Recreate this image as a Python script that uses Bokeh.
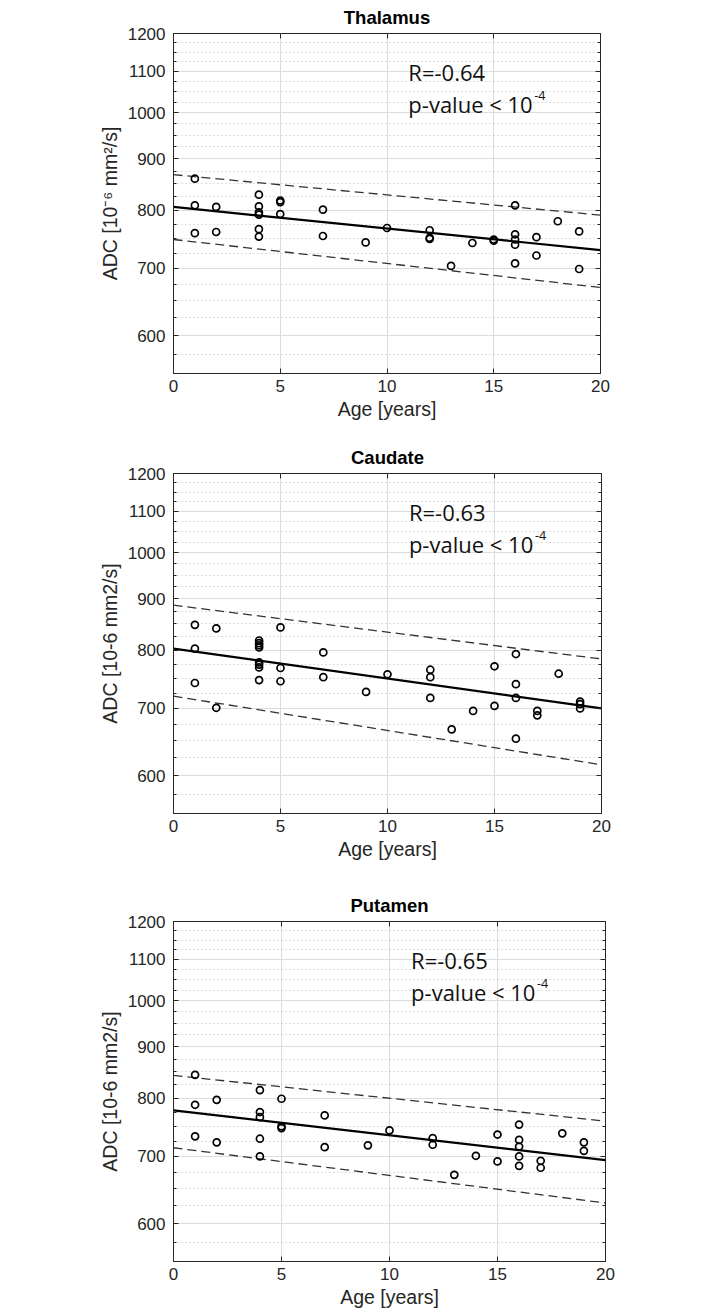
from bokeh.plotting import figure
from bokeh.models import (Range1d, FixedTicker, LogAxis, LinearAxis, Label,
                          NumeralTickFormatter, CustomLabelingPolicy)
from bokeh.layouts import column
from bokeh.embed import file_html
from bokeh.resources import INLINE

# ---------------- data ----------------
regions = ["Thalamus", "Caudate", "Putamen"]
y_labels = ["ADC [10\u207b\u2076 mm\u00b2/s]", "ADC [10-6 mm2/s]", "ADC [10-6 mm2/s]"]
r_texts = ["R=-0.64", "R=-0.63", "R=-0.65"]
p_text = "p-value < 10"
p_exp = "-4"
x_label = "Age [years]"

thal_age = [1, 1, 1, 2, 2, 4, 4, 4, 4, 4, 4, 5, 5, 5, 7, 7, 9, 10, 12, 12, 12,
            13, 14, 15, 15, 16, 16, 16, 16, 16, 17, 17, 18, 19, 19]
thal_adc = [860, 809, 759, 806, 761, 829, 807, 796, 792, 766, 753, 818, 815, 793,
            801, 754, 743, 768, 764, 751, 749, 704, 742, 748, 746, 809, 757, 748,
            739, 708, 752, 721, 780, 762, 699]

caud_age = [1, 1, 1, 2, 2, 4, 4, 4, 4, 4, 4, 4, 4, 5, 5, 5, 7, 7, 9, 10, 12, 12, 12,
            13, 14, 15, 15, 16, 16, 16, 16, 17, 17, 18, 19, 19, 19]
caud_adc = [848, 803, 742, 841, 701, 818, 813, 809, 805, 778, 774, 769, 747, 843,
            768, 745, 796, 752, 727, 757, 765, 752, 717, 667, 696, 771, 704, 793,
            740, 717, 653, 696, 689, 758, 711, 707, 700]

put_age = [1, 1, 1, 2, 2, 4, 4, 4, 4, 4, 5, 5, 5, 7, 7, 9, 10, 12, 12, 13, 14,
           15, 15, 16, 16, 16, 16, 16, 17, 17, 18, 19, 19]
put_adc = [844, 788, 733, 797, 723, 815, 775, 766, 729, 700, 799, 750, 747, 769,
           715, 718, 743, 730, 719, 671, 701, 736, 692, 753, 727, 716, 700, 685,
           693, 682, 738, 723, 709]

fit_age = [0, 20]
thal_fit, thal_up, thal_lo = [806, 730], [868, 791], [748, 670]
caud_fit, caud_up, caud_lo = [803, 700], [887, 784], [720, 615]
put_fit, put_up, put_lo = [778, 694], [843, 759], [714, 629]

y_major = [600, 700, 800, 900, 1000, 1100, 1200]
y_minor = [575, 625, 650, 675, 725, 750, 775, 825, 850, 875, 925, 950, 975,
           1025, 1050, 1075, 1125, 1150, 1175]
x_major = [0, 5, 10, 15, 20]

ages = [thal_age, caud_age, put_age]
adcs = [thal_adc, caud_adc, put_adc]
fits = [thal_fit, caud_fit, put_fit]
ups = [thal_up, caud_up, put_up]
los = [thal_lo, caud_lo, put_lo]

# ---------------- layout ----------------
border_left = [169, 169, 173]
border_top = [33, 31, 31]
heights = [442, 448, 424]
frame_w = [431, 432, 432]
FH = 340
AX = "#262626"
FONT = "Liberation Sans"


def make_panel(i):
    h = heights[i]
    bl = border_left[i]
    bt = border_top[i]
    bb = h - bt - FH
    br = 20
    p = figure(width=bl + frame_w[i] + br, height=h, y_axis_type="log",
               x_range=Range1d(0, 20), y_range=Range1d(550, 1200),
               output_backend="svg", toolbar_location=None,
               min_border_left=bl, min_border_right=br,
               min_border_top=bt, min_border_bottom=bb,
               title=regions[i])
    p.title.align = "center"
    p.title.text_font = FONT
    p.title.text_font_size = "18.5px"
    p.title.text_font_style = "bold"
    p.title.text_color = "black"
    p.title.standoff = 4

    p.outline_line_color = AX
    p.outline_line_width = 1
    p.background_fill_color = "white"
    p.border_fill_color = "white"

    yt = FixedTicker(ticks=y_major, minor_ticks=y_minor)
    xt = FixedTicker(ticks=x_major, minor_ticks=[])
    p.yaxis.ticker = yt
    p.xaxis.ticker = xt
    p.yaxis.formatter = NumeralTickFormatter(format="0")

    for ax in (p.xaxis[0], p.yaxis[0]):
        ax.axis_line_color = AX
        ax.major_tick_in = 5
        ax.major_tick_out = 0
        ax.minor_tick_in = 3
        ax.minor_tick_out = 0
        ax.major_tick_line_color = AX
        ax.minor_tick_line_color = AX
        ax.major_label_text_font = FONT
        ax.major_label_text_font_size = "17px"
        ax.major_label_text_color = AX
        ax.axis_label_text_font = FONT
        ax.axis_label_text_font_size = "19.5px"
        ax.axis_label_text_font_style = "normal"
        ax.axis_label_text_color = AX
    p.xaxis.minor_tick_line_color = None
    p.xaxis.axis_label = x_label
    p.xaxis.major_label_standoff = 6
    p.xaxis.axis_label_standoff = 3
    p.yaxis.axis_label = y_labels[i]
    p.yaxis.major_label_standoff = 8
    p.yaxis.axis_label_standoff = 4

    ra = LogAxis(ticker=yt, major_label_text_font_size="1px", major_label_standoff=0,
                 major_label_policy=CustomLabelingPolicy(code="return []"),
                 major_tick_in=5, major_tick_out=0, minor_tick_in=3, minor_tick_out=0,
                 axis_line_color=None, major_tick_line_color=AX, minor_tick_line_color=AX)
    p.add_layout(ra, "right")
    ta = LinearAxis(ticker=xt, major_label_text_font_size="1px", major_label_standoff=0,
                    major_label_policy=CustomLabelingPolicy(code="return []"),
                    major_tick_in=5, major_tick_out=0, minor_tick_line_color=None,
                    axis_line_color=None, major_tick_line_color=AX)
    p.add_layout(ta, "above")

    p.xgrid.grid_line_color = "#dcdcdc"
    p.xgrid.grid_line_width = 1
    p.ygrid.grid_line_color = "#dcdcdc"
    p.ygrid.grid_line_width = 1
    p.ygrid.minor_grid_line_color = "#bdbdbd"
    p.ygrid.minor_grid_line_dash = "1 3"
    p.ygrid.minor_grid_line_width = 1

    p.line(fit_age, ups[i], line_color="#333333", line_width=1.3, line_dash="9 5")
    p.line(fit_age, los[i], line_color="#333333", line_width=1.3, line_dash="9 5")
    p.line(fit_age, fits[i], line_color="black", line_width=2.2)
    p.scatter(ages[i], adcs[i], marker="circle", size=7, fill_color=None,
              line_color="black", line_width=1.7)

    p.add_layout(Label(x=11.0, y=1098, text=r_texts[i], text_font="Open Sans",
                       text_font_size="22px", text_color="#111111",
                       text_baseline="alphabetic"))
    p.add_layout(Label(x=11.0, y=1020, text=p_text, text_font="Open Sans",
                       text_font_size="22px", text_color="#111111",
                       text_baseline="alphabetic"))
    p.add_layout(Label(x=11.0, y=1040, x_offset=126, text=p_exp, text_font="Open Sans",
                       text_font_size="12.5px", text_color="#111111",
                       text_baseline="alphabetic"))
    return p


panels = [make_panel(i) for i in range(3)]
layout = column(*panels, spacing=0)

open("out.html", "w").write(file_html(layout, INLINE))
